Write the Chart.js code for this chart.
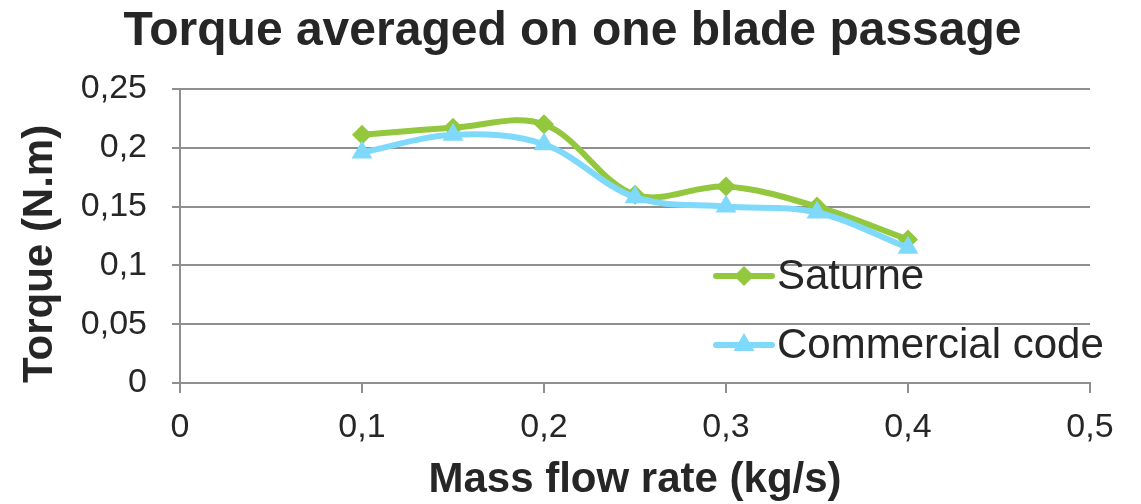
<!DOCTYPE html>
<html>
<head>
<meta charset="utf-8">
<script src="https://cdn.jsdelivr.net/npm/chart.js"></script>
<style>
  html, body { margin: 0; padding: 0; background: #fff; }
  #wrap { width: 1141px; height: 504px; }
</style>
</head>
<body>
<div id="wrap"><canvas id="chart" width="1141" height="504"></canvas></div>
<script>
// values
const massFlow = [0.1, 0.15, 0.2, 0.25, 0.3, 0.35, 0.4];
const saturne = [0.211, 0.217, 0.220, 0.160, 0.167, 0.150, 0.122];
const commercial = [0.196, 0.211, 0.203, 0.158, 0.150, 0.145, 0.115];
const seriesNames = ['Saturne', 'Commercial code'];
const chartTitle = 'Torque averaged on one blade passage';

const FONT = "'Liberation Sans', Arial, sans-serif";
const GREEN = '#93c83e';
const BLUE = '#7fd9fb';
const GRID = '#8f8f8f';
const TEXT = '#262626';

function comma(v) {
  return String(Math.round(v * 100) / 100).replace('.', ',');
}

// title centred on the whole canvas (the built-in one centres on the padded box)
const pageTitle = {
  id: 'pageTitle',
  afterDraw(chart) {
    const ctx = chart.ctx;
    ctx.save();
    ctx.fillStyle = TEXT;
    ctx.font = 'bold 48px ' + FONT;
    ctx.textAlign = 'center';
    ctx.textBaseline = 'alphabetic';
    ctx.fillText(chartTitle, chart.width / 2 + 2, 45);
    ctx.restore();
  }
};

// legend drawn inside the plot like the original
const innerLegend = {
  id: 'innerLegend',
  afterDatasetsDraw(chart) {
    const ctx = chart.ctx;
    const area = chart.chartArea;
    const x0 = area.left + 536;
    const rows = [area.top + 187, area.top + 256];
    ctx.save();
    chart.data.datasets.forEach((ds, i) => {
      const y = rows[i];
      ctx.strokeStyle = ds.borderColor;
      ctx.lineWidth = 6;
      ctx.lineCap = 'round';
      ctx.beginPath();
      ctx.moveTo(x0, y);
      ctx.lineTo(x0 + 56, y);
      ctx.stroke();
      ctx.fillStyle = ds.borderColor;
      const cx = x0 + 28;
      const r = ds.pointRadius;
      ctx.beginPath();
      if (ds.pointStyle === 'rectRot') {
        ctx.moveTo(cx, y - r);
        ctx.lineTo(cx + r, y);
        ctx.lineTo(cx, y + r);
        ctx.lineTo(cx - r, y);
      } else {
        ctx.moveTo(cx, y - r);
        ctx.lineTo(cx + r * 0.866, y + r * 0.5);
        ctx.lineTo(cx - r * 0.866, y + r * 0.5);
      }
      ctx.closePath();
      ctx.fill();
      ctx.fillStyle = TEXT;
      ctx.font = '42px ' + FONT;
      ctx.textBaseline = 'middle';
      ctx.textAlign = 'left';
      ctx.fillText(ds.label, x0 + 61, y + 1);
    });
    ctx.restore();
  }
};

new Chart(document.getElementById('chart'), {
  type: 'line',
  data: {
    datasets: [
      {
        label: seriesNames[0],
        data: massFlow.map((x, i) => ({ x: x, y: saturne[i] })),
        borderColor: GREEN,
        backgroundColor: GREEN,
        borderWidth: 6,
        pointStyle: 'rectRot',
        pointRadius: 10,
        pointBorderWidth: 0,
        tension: 0.35,
        order: 2
      },
      {
        label: seriesNames[1],
        data: massFlow.map((x, i) => ({ x: x, y: commercial[i] })),
        borderColor: BLUE,
        backgroundColor: BLUE,
        borderWidth: 6,
        pointStyle: 'triangle',
        pointRadius: 12,
        pointBorderWidth: 0,
        tension: 0.35,
        order: 1
      }
    ]
  },
  options: {
    responsive: false,
    animation: false,
    layout: { padding: { top: 89, right: 51, bottom: 0, left: 0 } },
    plugins: {
      legend: { display: false },
      tooltip: { enabled: false },
      title: { display: false }
    },
    scales: {
      x: {
        type: 'linear',
        min: 0,
        max: 0.5,
        afterFit(scale) { scale.height = 121; },
        ticks: {
          stepSize: 0.1,
          color: TEXT,
          font: { family: FONT, size: 34 },
          padding: 14,
          maxRotation: 0,
          callback: comma
        },
        grid: {
          drawOnChartArea: false,
          drawTicks: true,
          tickLength: 10,
          color: GRID,
          lineWidth: 2
        },
        border: { display: true, color: GRID, width: 2 },
        title: {
          display: true,
          text: 'Mass flow rate (kg/s)',
          color: TEXT,
          font: { family: FONT, size: 42, weight: 'bold', lineHeight: 1.1 },
          padding: { top: 0, bottom: 0 }
        }
      },
      y: {
        min: 0,
        max: 0.25,
        afterFit(scale) { scale.width = 180; },
        ticks: {
          stepSize: 0.05,
          color: TEXT,
          font: { family: FONT, size: 34 },
          padding: 25,
          callback: comma
        },
        grid: {
          color: GRID,
          lineWidth: 2,
          tickLength: 8
        },
        border: { display: true, color: GRID, width: 2 },
        title: {
          display: true,
          text: 'Torque (N.m)',
          align: 'start',
          color: TEXT,
          font: { family: FONT, size: 42, weight: 'bold', lineHeight: 1.2 },
          padding: { top: 15, bottom: 0 }
        }
      }
    }
  },
  plugins: [pageTitle, innerLegend]
});
</script>
</body>
</html>
